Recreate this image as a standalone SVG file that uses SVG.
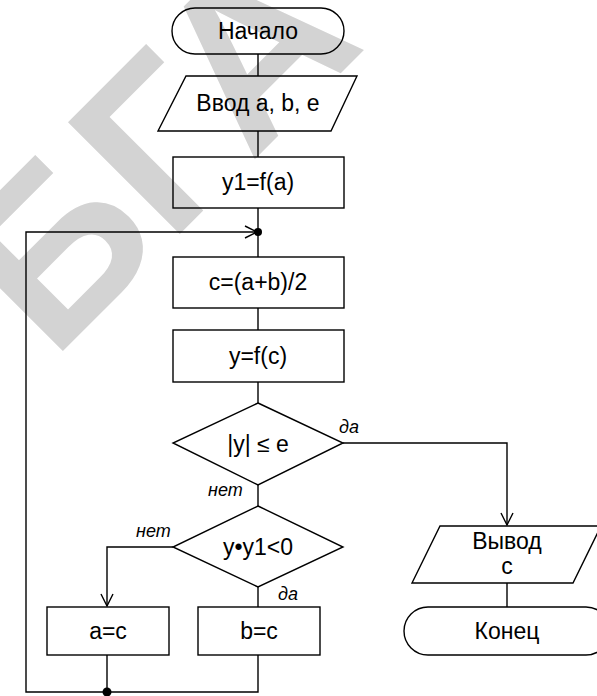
<svg xmlns="http://www.w3.org/2000/svg" width="597" height="696" viewBox="0 0 597 696">
<style>
.s{fill:none;stroke:#000;stroke-width:1.4}
.t{font-family:"Liberation Sans",Arial,sans-serif;font-size:23px;fill:#000;text-anchor:middle}
.l{font-family:"Liberation Sans",Arial,sans-serif;font-size:18px;font-style:italic;fill:#000}
.wm{font-family:"Liberation Sans",Arial,sans-serif;font-weight:bold;font-size:230px;fill:#d3d3d3}
</style>
<defs>
<marker id="arr" viewBox="0 0 14 14" refX="13" refY="7" markerWidth="14" markerHeight="14" markerUnits="userSpaceOnUse" orient="auto">
<path d="M1,1 L13,7 L1,13" fill="none" stroke="#000" stroke-width="1.4"/>
</marker>
</defs>
<rect width="597" height="696" fill="#fff"/>
<text class="wm" transform="translate(52,362) rotate(-45)">БГА</text>
<g id="connectors" class="s">
<line x1="258" y1="54" x2="258" y2="76"/>
<line x1="258" y1="131" x2="258" y2="157"/>
<line x1="258" y1="208" x2="258" y2="257"/>
<line x1="258" y1="308" x2="258" y2="330"/>
<line x1="258" y1="382" x2="258" y2="403"/>
<line x1="258" y1="485" x2="258" y2="506"/>
<line x1="258" y1="587" x2="258" y2="607"/>
<polyline points="343,443 507,443 507,525" marker-end="url(#arr)"/>
<line x1="507" y1="583" x2="507" y2="607"/>
<polyline points="173,547 107,547 107,606" marker-end="url(#arr)"/>
<line x1="107" y1="655" x2="107" y2="692"/>
<polyline points="258,655 258,692 26,692 26,232 257,232" marker-end="url(#arr)"/>
</g>
<circle cx="258" cy="232" r="4" fill="#000"/>
<circle cx="107" cy="692" r="4.5" fill="#000"/>
<g id="start"><rect class="s" x="172" y="8" width="172" height="46" rx="23"/><text class="t" x="258" y="39">Начало</text></g>
<g id="input"><polygon class="s" points="186,76 357,76 331,131 158,131"/><text class="t" x="258" y="111">Ввод a, b, e</text></g>
<g id="y1"><rect class="s" x="173" y="157" width="171" height="51"/><text class="t" x="258" y="190">y1=f(a)</text></g>
<g id="mid"><rect class="s" x="173" y="257" width="171" height="51"/><text class="t" x="258" y="290">c=(a+b)/2</text></g>
<g id="yfc"><rect class="s" x="173" y="330" width="171" height="52"/><text class="t" x="258" y="364">y=f(c)</text></g>
<g id="cond1"><polygon class="s" points="258,403 343,443 258,485 173,443"/><text class="t" x="258" y="452">|y| ≤ e</text><text class="l" x="339" y="433">да</text><text class="l" x="208" y="496">нет</text></g>
<g id="cond2"><polygon class="s" points="258,506 343,547 258,587 173,547"/><text class="t" x="258" y="555">y•y1&lt;0</text><text class="l" x="136" y="537">нет</text><text class="l" x="278" y="600">да</text></g>
<g id="ac"><rect class="s" x="47" y="607" width="122" height="48"/><text class="t" x="108" y="639">a=c</text></g>
<g id="bc"><rect class="s" x="198" y="607" width="122" height="48"/><text class="t" x="259" y="639">b=c</text></g>
<g id="output"><polygon class="s" points="440,526 601,526 573,583 412,583"/><text class="t" x="507" y="549">Вывод</text><text class="t" x="507" y="574">c</text></g>
<g id="end"><rect class="s" x="404" y="607" width="206" height="48" rx="24"/><text class="t" x="507" y="639">Конец</text></g>
</svg>
